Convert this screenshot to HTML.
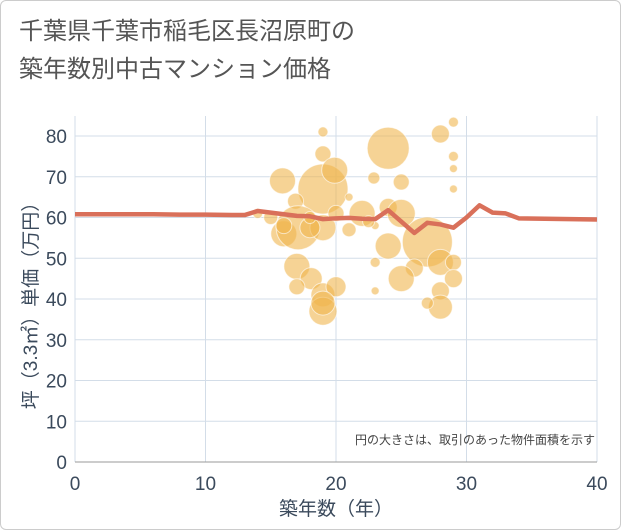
<!DOCTYPE html>
<html><head><meta charset="utf-8"><style>
html,body{margin:0;padding:0;background:#fff;}
#wrap{position:relative;width:621px;height:530px;box-sizing:border-box;border:1px solid #ccc;border-radius:6px;overflow:hidden;font-family:"Liberation Sans","Noto Sans CJK JP",sans-serif;}
#title{position:absolute;left:18px;top:12px;font-size:24px;line-height:38px;color:#555;}
</style></head><body>
<div id="wrap">
<div id="title">千葉県千葉市稲毛区長沼原町の<br>築年数別中古マンション価格</div>
<svg id="chart" width="621" height="530" style="position:absolute;left:0;top:0"></svg>
</div>
<script>
const xTicks=[0,10,20,30,40];
const yTicks=[0,10,20,30,40,50,60,70,80];
const bubbleX=[19,19,19,19.9,15.9,24,22.9,25,28,29,29,29,29,16.9,15,16,17.1,19,18,20,21,21,22,23,24,25,24,23,23,27,26,25,28,29,29,28,28,27,17,18.1,17,19,20,19,19,14,16,18,22.5];
const bubbleY=[81,75.6,67,71.6,69,77,69.7,68.7,80.5,83.4,75,72,67,64,60,56,57.5,57.5,57.5,61,65,57,61,58,62.5,61,53,49,42,54,47.6,45,49,49,45,42,38,39,48,45,43,41,43,37,39,61,58,60,59];
const bubbleR=[5,8,25,13,13,21,6,8,9,5,5,4,4,8,7,13,22,13,10,8,4,7,13,4,9,14,13,5,4,25,9,13,13,8,9,9,12,6,13,11,8,12,10,14,12,5,8,6,6];
const lineX=[0,2,4,6,8,10,12,13,14,15,16,17,18,19,20,21,22,23,24,25,26,27,28,29,30,31,32,33,34,36,38,40];
const lineY=[60.8,60.8,60.8,60.8,60.7,60.7,60.6,60.6,61.6,61.2,60.8,60.4,60.3,59.6,59.8,59.9,59.7,59.6,61.8,59,56.2,58.7,58.3,57.5,60,63,61.2,61,59.8,59.7,59.6,59.5];
const L=74,R=596,T=115,B=461;
const xs=v=>L+(v/40)*(R-L);
const yS=v=>B-v*4.075;
const svg=document.getElementById('chart');
const NS='http://www.w3.org/2000/svg';
function mk(t,a){const e=document.createElementNS(NS,t);for(const k in a)e.setAttribute(k,a[k]);svg.appendChild(e);return e;}
const bg=mk('rect',{x:L,y:T,width:R-L,height:B-T,fill:'#fff'});


xTicks.forEach(v=>{
 const g=mk('line',{x1:xs(v),x2:xs(v),y1:T,y2:B,stroke:'#d3dde8','stroke-width':1});
 
 
 const t=mk('text',{x:xs(v),y:B+28,'text-anchor':'middle','font-size':19,fill:'#3b4a5c'});
 t.textContent=v;
 
 
});
yTicks.forEach(v=>{
 const g=mk('line',{x1:L,x2:R,y1:yS(v),y2:yS(v),stroke:'#d3dde8','stroke-width':1});
 
 
 const t=mk('text',{x:L-8,y:yS(v)+7,'text-anchor':'end','font-size':19,fill:'#3b4a5c'});
 t.textContent=v;
 
 
});
const ax=mk('line',{x1:L,x2:R,y1:B,y2:B,stroke:'#999','stroke-width':1});


bubbleX.forEach((v,i)=>{
 const c=mk('circle',{cx:xs(v),cy:yS(bubbleY[i]),r:bubbleR[i],fill:'#f0b54f','fill-opacity':0.6,stroke:'#fff','stroke-opacity':0.6,'stroke-width':1});
 
 
});
const p=mk('polyline',{points:lineX.map((v,i)=>xs(v)+','+yS(lineY[i])).join(' '),fill:'none',stroke:'#d9705a','stroke-width':4.5,'stroke-linejoin':'round'});


const note=mk('text',{x:R-2,y:443,'text-anchor':'end','font-size':12,fill:'#444'});
note.textContent='円の大きさは、取引のあった物件面積を示す';


const xt=mk('text',{x:(L+R)/2,y:514,'text-anchor':'middle','font-size':19,fill:'#3b4a5c'});
xt.textContent='築年数（年）';


const yt=mk('text',{x:0,y:0,'text-anchor':'middle','font-size':19,fill:'#3b4a5c',transform:'translate(36,'+((T+B)/2+12)+') rotate(-90)'});
yt.textContent='坪（3.3㎡）単価（万円）';


</script>
</body></html>
